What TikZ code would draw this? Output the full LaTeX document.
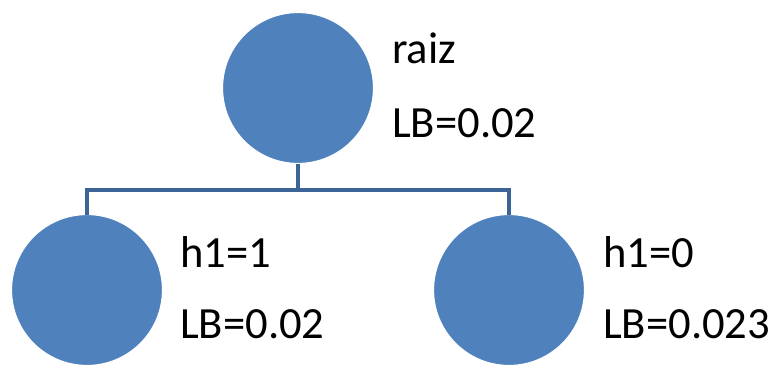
\documentclass[tikz,border=0pt]{standalone}
\usepackage{fontspec}
\setmainfont{Carlito}
\definecolor{nodeblue}{HTML}{4F81BD}
\definecolor{linkblue}{RGB}{60,100,150}
\begin{document}
\begin{tikzpicture}[x=1pt,y=1pt,
  treenode/.style={circle,fill=nodeblue,draw=white,line width=1.2pt,inner sep=0pt,minimum size=151pt,outer sep=0pt},
  lbl/.style={anchor=base west,inner sep=0pt,font=\fontsize{44.6}{52}\selectfont},
  link/.style={draw=linkblue,line width=3.5pt}]
\useasboundingbox (0,0) rectangle (774,368);
\node[treenode] (root) at (298,280) {};
\node[treenode] (left) at (87,78) {};
\node[treenode] (right) at (509,78) {};
\coordinate (bar) at (298,178);
\draw[link] (root.south) -- (bar);
\draw[link] (left.north) |- (bar) -| (right.north);
\node[lbl] (t1) at (392,305) {raiz};
\node[lbl] (t2) at (392,231) {LB=0.02};
\node[lbl] (t3) at (180,101) {h1=1};
\node[lbl] (t4) at (180,30) {LB=0.02};
\node[lbl] (t5) at (603,101) {h1=0};
\node[lbl] (t6) at (603,30) {LB=0.023};
\end{tikzpicture}
\end{document}
